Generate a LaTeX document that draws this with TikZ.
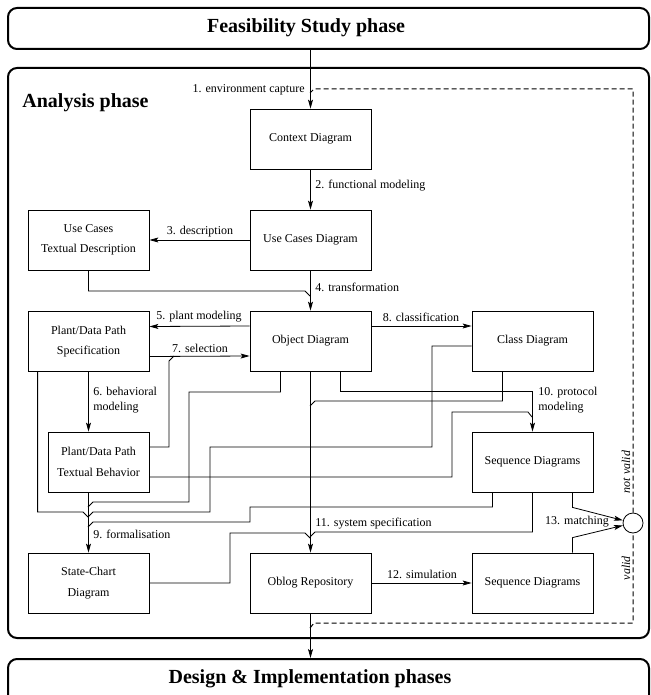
\documentclass[tikz,border=0pt]{standalone}
\usepackage{fontspec}
\setmainfont{Liberation Serif}
\usetikzlibrary{arrows.meta}

\tikzset{
    phasebox/.style={draw, line width=2pt, rounded corners=9pt, inner sep=0},
    phasetitle/.style={font=\fontsize{20}{24}\bfseries\selectfont, inner sep=0},
    stagebox/.style={draw, line width=0.8pt, minimum width=121pt, minimum height=60pt,
                     align=center, inner sep=0, font=\fontsize{12}{20.5}\selectfont},
    lbl/.style={font=\fontsize{12}{15}\selectfont, inner sep=0, align=left},
    arr/.style={-{Stealth[length=9pt,width=5pt,inset=2pt]}},
    loopback/.style={line width=1pt, dash pattern=on 5pt off 3pt}
}

\begin{document}
\begin{tikzpicture}[x=1pt, y=-1pt, line width=0.8pt]
    \useasboundingbox (0,0) rectangle (650,695);

    % Phases
    \node[phasebox, minimum width=641pt, minimum height=41pt] (feas) at (328.5,28.5) {};
    \node[phasetitle] (feastitle) at (306,28) {Feasibility Study phase};
    \node[phasebox, minimum width=641pt, minimum height=570pt] (analysis) at (328.5,353) {};
    \node[phasetitle, anchor=west] (analysistitle) at (22,103) {Analysis phase};
    \node[phasebox, minimum width=641pt, minimum height=60pt] (design) at (328.5,689) {};
    \node[phasetitle] (designtitle) at (310,679) {Design \& Implementation phases};

    % Diagrams
    \node[stagebox] (ctx)   at (310.5,139) {Context Diagram};
    \node[stagebox] (ucd)   at (310.5,240) {Use Cases Diagram};
    \node[stagebox] (uctd)  at (88.5,240)  {Use Cases\\Textual Description};
    \node[stagebox] (pds)   at (88.5,341.5) {Plant/Data Path\\Specification};
    \node[stagebox] (obj)   at (310.5,341) {Object Diagram};
    \node[stagebox] (cls)   at (532.5,341) {Class Diagram};
    \node[stagebox, minimum width=101pt] (pdtb) at (98.5,462) {Plant/Data Path\\Textual Behavior};
    \node[stagebox] (seqa)  at (532.5,462) {Sequence Diagrams};
    \node[stagebox] (stc)   at (88.5,583)  {State-Chart\\Diagram};
    \node[stagebox] (oblog) at (310.5,583) {Oblog Repository};
    \node[stagebox] (seqb)  at (532.5,583) {Sequence Diagrams};
    \node[circle, draw, minimum size=20pt, inner sep=0] (match) at (633,523) {};

    % Vertical arrows
    \draw[arr] (feas.south -| ctx.north) -- (ctx.north);
    \draw[arr] (ctx.south) -- (ucd.north);
    \draw[arr] (ucd.south) -- (obj.north);
    \draw[arr] (pds.south) -- (pds.south |- pdtb.north);
    \draw[arr] (pdtb.south -| stc.north) -- (stc.north);
    \draw[arr] ([xshift=30pt]obj.south) |- ([yshift=40pt]seqa.north) -- (seqa.north);
    \draw[arr] (obj.south) -- (oblog.north);
    \draw[arr] (oblog.south) -- (oblog.south |- design.north);

    % Horizontal arrows
    \draw[arr] (ucd.west) -- (uctd.east);
    \draw[arr] ([yshift=15pt]obj.west) -- ([yshift=15pt]pds.east);
    \draw[arr] ([yshift=-15pt]pds.east) -- ([yshift=-15pt]obj.west);
    \draw[arr] ([yshift=15pt]obj.east) -- ([yshift=15pt]cls.west);
    \draw[arr] (oblog.east) -- (seqb.west);
    \draw[arr] ([xshift=40pt]seqa.south) -- ++(0,15) -- (match);
    \draw[arr] ([xshift=40pt]seqb.north) -- ++(0,-15) -- (match);

    % Merging lines
    \draw (uctd.south) |- (305,291) -- (310,296);
    \draw ([yshift=15pt]pdtb.east) -| (169,361) -- (174,356);
    \draw ([xshift=10pt]pds.south west) |- (83,512) -- (88,517);
    \draw ([yshift=-5pt]cls.west) -| (432,447) -| (210,512) -- (93,512) -- (88,517);
    \draw ([xshift=-30pt]obj.south) |- (189,392) |- (93,502) -- (88,507);
    \draw ([xshift=-40pt]seqa.south) |- (250,507) |- (93,522) -- (88,527);
    \draw ([yshift=-15pt]pdtb.east) -| (452,412) -- (528,412) -- (532,417);
    \draw ([xshift=-30pt]cls.south) |- (315,401) -- (310,406);
    \draw (seqa.south) |- (315,532) -- (310,537);
    \draw (stc.east) -| (230,533) -- (305,533) -- (310,538);

    % Loop back
    \draw[loopback] (310,628) -- (314,623) -| (match.south);
    \draw[loopback] (match.north) |- (314,89) -- (310,93);

    % Labels
    \node[lbl, anchor=east] (l1) at (305,90) {1. environment capture};
    \node[lbl, anchor=west] (l2) at (315,186) {2. functional modeling};
    \node[lbl] (l3) at (200,232) {3. description};
    \node[lbl, anchor=west] (l4) at (315,287) {4. transformation};
    \node[lbl] (l5) at (199,317) {5. plant modeling};
    \node[lbl, anchor=west] (l6) at (93,400) {6. behavioral\\modeling};
    \node[lbl] (l7) at (200,348) {7. selection};
    \node[lbl] (l8) at (421,317) {8. classification};
    \node[lbl, anchor=west] (l9) at (93,534) {9. formalisation};
    \node[lbl, anchor=west] (l10) at (538,400) {10. protocol\\modeling};
    \node[lbl, anchor=west] (l11) at (315,524) {11. system specification};
    \node[lbl] (l12) at (422,574) {12. simulation};
    \node[lbl] (l13) at (577,522) {13. matching};
    \node[lbl, font=\fontsize{12}{15}\itshape\selectfont, rotate=90] (notvalid) at (626,472) {not valid};
    \node[lbl, font=\fontsize{12}{15}\itshape\selectfont, rotate=90] (valid) at (626,568) {valid};
\end{tikzpicture}
\end{document}
